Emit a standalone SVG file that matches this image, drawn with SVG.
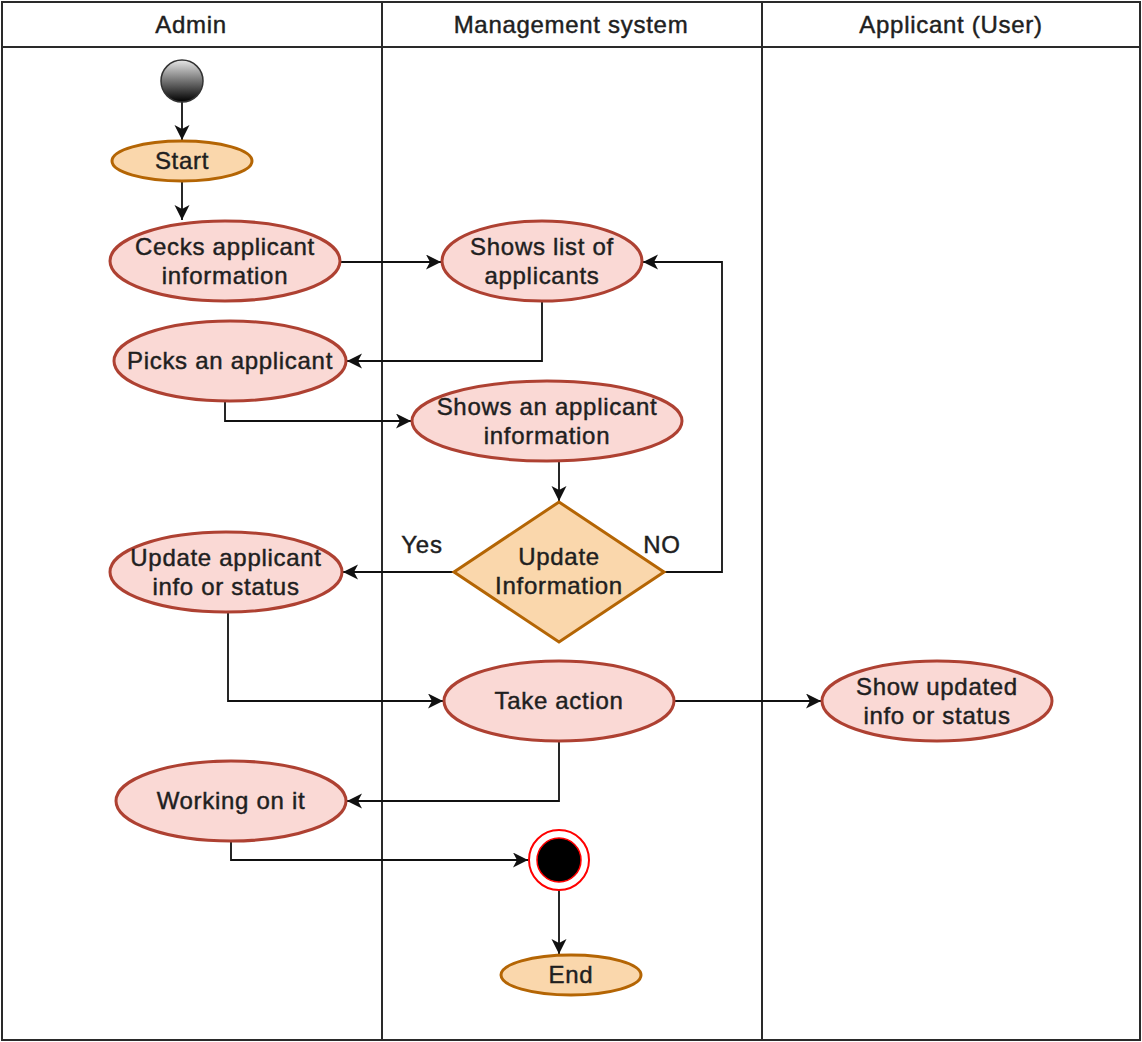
<svg xmlns="http://www.w3.org/2000/svg" width="1142" height="1042" viewBox="0 0 1142 1042">
<style>
  text { font-family: "Liberation Sans", Arial, sans-serif; font-size: 24px; fill: #1f1f1f; stroke: #1f1f1f; stroke-width: 0.45px; text-anchor: middle; letter-spacing: 0.7px; }
  .lane { fill: none; stroke: #2a2a2a; stroke-width: 2; }
  .act { fill: #fad9d5; stroke: #ae4132; stroke-width: 3; }
  .term { fill: #fad7ac; stroke: #b46504; stroke-width: 3; }
  .edge { fill: none; stroke: #111; stroke-width: 1.8; marker-end: url(#arrow); }
</style>
<defs>
  <marker id="arrow" markerUnits="userSpaceOnUse" markerWidth="16" markerHeight="16" refX="15" refY="7.5" orient="auto">
    <path d="M0,0 L15,7.5 L0,15 L4,7.5 Z" fill="#111"/>
  </marker>
  <linearGradient id="initGrad" x1="0" y1="0" x2="0" y2="1">
    <stop offset="0" stop-color="#e6e6e6"/>
    <stop offset="1" stop-color="#000"/>
  </linearGradient>
</defs>
<rect width="1142" height="1042" fill="#fff"/>

<g id="lanes">
  <rect class="lane" x="2" y="2" width="1138" height="1038"/>
  <line class="lane" x1="2" y1="47" x2="1140" y2="47"/>
  <line class="lane" x1="382" y1="2" x2="382" y2="1040"/>
  <line class="lane" x1="762" y1="2" x2="762" y2="1040"/>
  <text x="191" y="33">Admin</text>
  <text x="571" y="33">Management system</text>
  <text x="951" y="33">Applicant (User)</text>
</g>

<g id="connectors">
  <path class="edge" d="M182,102 L182,140"/>
  <path class="edge" d="M182,182 L182,220"/>
  <path class="edge" d="M341,262 L441,262"/>
  <path class="edge" d="M542,302 L542,361 L347,361"/>
  <path class="edge" d="M225,402 L225,421 L411,421"/>
  <path class="edge" d="M559,461 L559,501"/>
  <path class="edge" d="M454,572 L343,572"/>
  <path class="edge" d="M664,572 L722,572 L722,262 L643,262"/>
  <path class="edge" d="M228,612 L228,701 L443,701"/>
  <path class="edge" d="M674,701 L821,701"/>
  <path class="edge" d="M559,741 L559,801 L347,801"/>
  <path class="edge" d="M231,841 L231,860 L528,860"/>
  <path class="edge" d="M559,890 L559,954"/>
  <text x="422" y="553">Yes</text>
  <text x="662" y="553">NO</text>
</g>

<g id="initial">
  <circle cx="182" cy="81" r="21" fill="url(#initGrad)" stroke="#333" stroke-width="1.5"/>
</g>

<g id="start">
  <ellipse class="term" cx="182" cy="161" rx="70" ry="20"/>
  <text x="182" y="169">Start</text>
</g>

<g id="checks">
  <ellipse class="act" cx="225" cy="261" rx="115" ry="40"/>
  <text x="225" y="255">Cecks applicant</text>
  <text x="225" y="284">information</text>
</g>

<g id="showsList">
  <ellipse class="act" cx="542" cy="261" rx="100" ry="40"/>
  <text x="542" y="255">Shows list of</text>
  <text x="542" y="284">applicants</text>
</g>

<g id="picks">
  <ellipse class="act" cx="230" cy="361" rx="116" ry="40"/>
  <text x="230" y="369">Picks an applicant</text>
</g>

<g id="showsInfo">
  <ellipse class="act" cx="547" cy="421" rx="135" ry="40"/>
  <text x="547" y="415">Shows an applicant</text>
  <text x="547" y="444">information</text>
</g>

<g id="decision">
  <polygon points="559,502 664,572 559,642 454,572" fill="#fad7ac" stroke="#b46504" stroke-width="3"/>
  <text x="559" y="565">Update</text>
  <text x="559" y="594">Information</text>
</g>

<g id="update">
  <ellipse class="act" cx="226" cy="572" rx="116" ry="40"/>
  <text x="226" y="566">Update applicant</text>
  <text x="226" y="595">info or status</text>
</g>

<g id="takeAction">
  <ellipse class="act" cx="559" cy="701" rx="115" ry="40"/>
  <text x="559" y="709">Take action</text>
</g>

<g id="showUpdated">
  <ellipse class="act" cx="937" cy="701" rx="115" ry="40"/>
  <text x="937" y="695">Show updated</text>
  <text x="937" y="724">info or status</text>
</g>

<g id="working">
  <ellipse class="act" cx="231" cy="801" rx="115" ry="40"/>
  <text x="231" y="809">Working on it</text>
</g>

<g id="final">
  <circle cx="559" cy="860" r="30" fill="#fff" stroke="#ff0000" stroke-width="2"/>
  <circle cx="559" cy="860" r="22" fill="#000" stroke="#ff0000" stroke-width="1.5"/>
</g>

<g id="end">
  <ellipse class="term" cx="571" cy="975" rx="70" ry="20"/>
  <text x="571" y="983">End</text>
</g>
</svg>
